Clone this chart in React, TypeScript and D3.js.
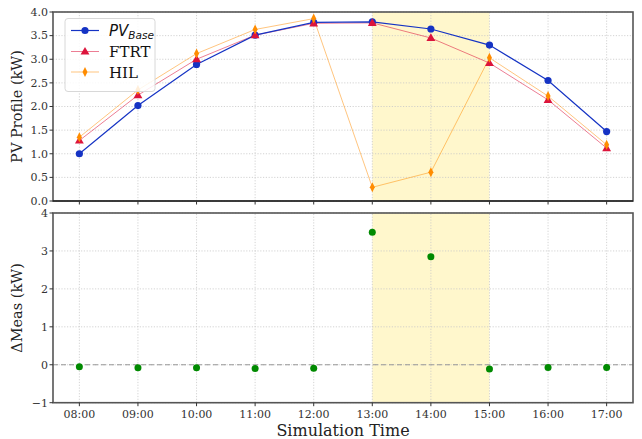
import React from "react";
import * as d3 from "d3";

const hours = ["08:00", "09:00", "10:00", "11:00", "12:00", "13:00", "14:00", "15:00", "16:00", "17:00"];
const pvBase = [1.0, 2.02, 2.89, 3.51, 3.78, 3.79, 3.64, 3.30, 2.55, 1.47];
const ftrt = [1.28, 2.24, 3.0, 3.51, 3.76, 3.77, 3.45, 2.92, 2.14, 1.12];
const hil = [1.35, 2.35, 3.12, 3.63, 3.86, 0.29, 0.61, 3.03, 2.22, 1.19];
const deltaMeas = [-0.05, -0.08, -0.08, -0.1, -0.09, 3.49, 2.85, -0.11, -0.07, -0.07];
const shadeSpan = [5, 7];
const topTicks = [0, 0.5, 1, 1.5, 2, 2.5, 3, 3.5, 4];
const bottomTicks = [-1, 0, 1, 2, 3, 4];

const font = "'DejaVu Serif', serif";
const left = 53, right = 633;

export default function App() {
  const x = d3.scaleLinear().domain([-0.45, 9.45]).range([left, right]);
  const yTop = d3.scaleLinear().domain([0, 4]).range([201, 12]);
  const yBot = d3.scaleLinear().domain([-1, 4]).range([402.7, 213]);
  const idx = hours.map((_, i) => i);

  const line = (vals: number[], y: d3.ScaleLinear<number, number>) =>
    d3.line<number>().x((_, i) => x(i)).y(d => y(d))(vals) || "";

  const tri = d3.symbol().type(d3.symbolTriangle).size(34)() || "";
  const diamond = "M0,-5L2.5,0L0,5L-2.5,0Z";

  const grid = (y: d3.ScaleLinear<number, number>, ticks: number[]) => (
    <g stroke="#c8c8c8" strokeWidth={0.8} strokeDasharray="1.2,1.6">
      {idx.map(i => <line key={"x" + i} x1={x(i)} x2={x(i)} y1={y.range()[0]} y2={y.range()[1]} />)}
      {ticks.map(t => <line key={"y" + t} x1={left} x2={right} y1={y(t)} y2={y(t)} />)}
    </g>
  );

  const shade = (y: d3.ScaleLinear<number, number>) => (
    <rect x={x(shadeSpan[0])} width={x(shadeSpan[1]) - x(shadeSpan[0])}
      y={y.range()[1]} height={y.range()[0] - y.range()[1]} fill="#ffd700" fillOpacity={0.2} />
  );

  const yAxis = (y: d3.ScaleLinear<number, number>, ticks: number[], fmt: (t: number) => string) => (
    <g fontFamily={font} fontSize={11} fill="#333">
      {ticks.map(t => (
        <g key={t}>
          <line x1={left - 3.5} x2={left} y1={y(t)} y2={y(t)} stroke="#333" />
          <text x={left - 5} y={y(t)} dy="0.35em" textAnchor="end">{fmt(t)}</text>
        </g>
      ))}
    </g>
  );

  return (
    <svg width={642} height={439} style={{ position: "absolute", left: 0, top: 0, background: "#fff" }}>
      {/* top panel */}
      {shade(yTop)}
      {grid(yTop, topTicks)}
      <path d={line(hil, yTop)} fill="none" stroke="#ff8c00" strokeOpacity={0.5} strokeWidth={1} />
      <path d={line(ftrt, yTop)} fill="none" stroke="#dc143c" strokeOpacity={0.55} strokeWidth={1} />
      <path d={line(pvBase, yTop)} fill="none" stroke="#1533c4" strokeWidth={1.2} />
      {pvBase.map((v, i) => <circle key={"b" + i} cx={x(i)} cy={yTop(v)} r={3.6} fill="#1533c4" />)}
      {ftrt.map((v, i) => <path key={"f" + i} d={tri} transform={`translate(${x(i)},${yTop(v) + 0.5})`} fill="#dc143c" />)}
      {hil.map((v, i) => <path key={"h" + i} d={diamond} transform={`translate(${x(i)},${yTop(v)})`} fill="#ff8c00" />)}
      <rect x={left} y={12} width={right - left} height={189} fill="none" stroke="#555" strokeWidth={1.6} />
      <line x1={left} x2={right} y1={201} y2={201} stroke="#000" strokeWidth={1.2} />
      {idx.map(i => <line key={"tt" + i} x1={x(i)} x2={x(i)} y1={201} y2={204.5} stroke="#333" />)}
      {yAxis(yTop, topTicks, d3.format(".1f"))}
      <text transform="translate(22,106.5) rotate(-90)" textAnchor="middle" fontFamily={font} fontSize={14.5} fill="#222">PV Profile (kW)</text>

      {/* legend */}
      <g>
        <rect x={65} y={18.5} width={90} height={73} rx={3} fill="#fff" fillOpacity={0.85} stroke="#d8d8d8" />
        <line x1={71} x2={99} y1={30.5} y2={30.5} stroke="#1533c4" strokeWidth={1.2} />
        <circle cx={85} cy={30.5} r={3.6} fill="#1533c4" />
        <text x={109} y={36} fontFamily="'DejaVu Sans', sans-serif" fontStyle="italic" fontSize={15} fill="#111">
          PV<tspan fontSize={10.5} dy={3}>Base</tspan>
        </text>
        <line x1={71} x2={99} y1={51.5} y2={51.5} stroke="#dc143c" strokeOpacity={0.55} />
        <path d={tri} transform="translate(85,52)" fill="#dc143c" />
        <text x={109} y={57} fontFamily={font} fontSize={15} fill="#111">FTRT</text>
        <line x1={71} x2={99} y1={72} y2={72} stroke="#ff8c00" strokeOpacity={0.5} />
        <path d={diamond} transform="translate(85,72)" fill="#ff8c00" />
        <text x={109} y={77.5} fontFamily={font} fontSize={15} fill="#111">HIL</text>
      </g>

      {/* bottom panel */}
      {shade(yBot)}
      {grid(yBot, bottomTicks)}
      <line x1={left} x2={right} y1={yBot(0)} y2={yBot(0)} stroke="#999" strokeWidth={1.2} strokeDasharray="5,3" />
      {deltaMeas.map((v, i) => <circle key={"d" + i} cx={x(i)} cy={yBot(v)} r={3.5} fill="#008a00" />)}
      <rect x={left} y={213} width={right - left} height={189.7} fill="none" stroke="#555" strokeWidth={1.6} />
      {yAxis(yBot, bottomTicks, t => (t < 0 ? "\u2212" + Math.abs(t) : String(t)))}
      <text transform="translate(22,308) rotate(-90)" textAnchor="middle" fontFamily={font} fontSize={14.5} fill="#222">{"\u0394Meas (kW)"}</text>
      <g fontFamily={font} fontSize={11} fill="#333">
        {hours.map((h, i) => (
          <g key={h}>
            <line x1={x(i)} x2={x(i)} y1={402.7} y2={406.2} stroke="#333" />
            <text x={x(i)} y={417.5} textAnchor="middle">{h}</text>
          </g>
        ))}
      </g>
      <text x={(left + right) / 2} y={435.5} textAnchor="middle" fontFamily={font} fontSize={16} fill="#222">Simulation Time</text>
    </svg>
  );
}
